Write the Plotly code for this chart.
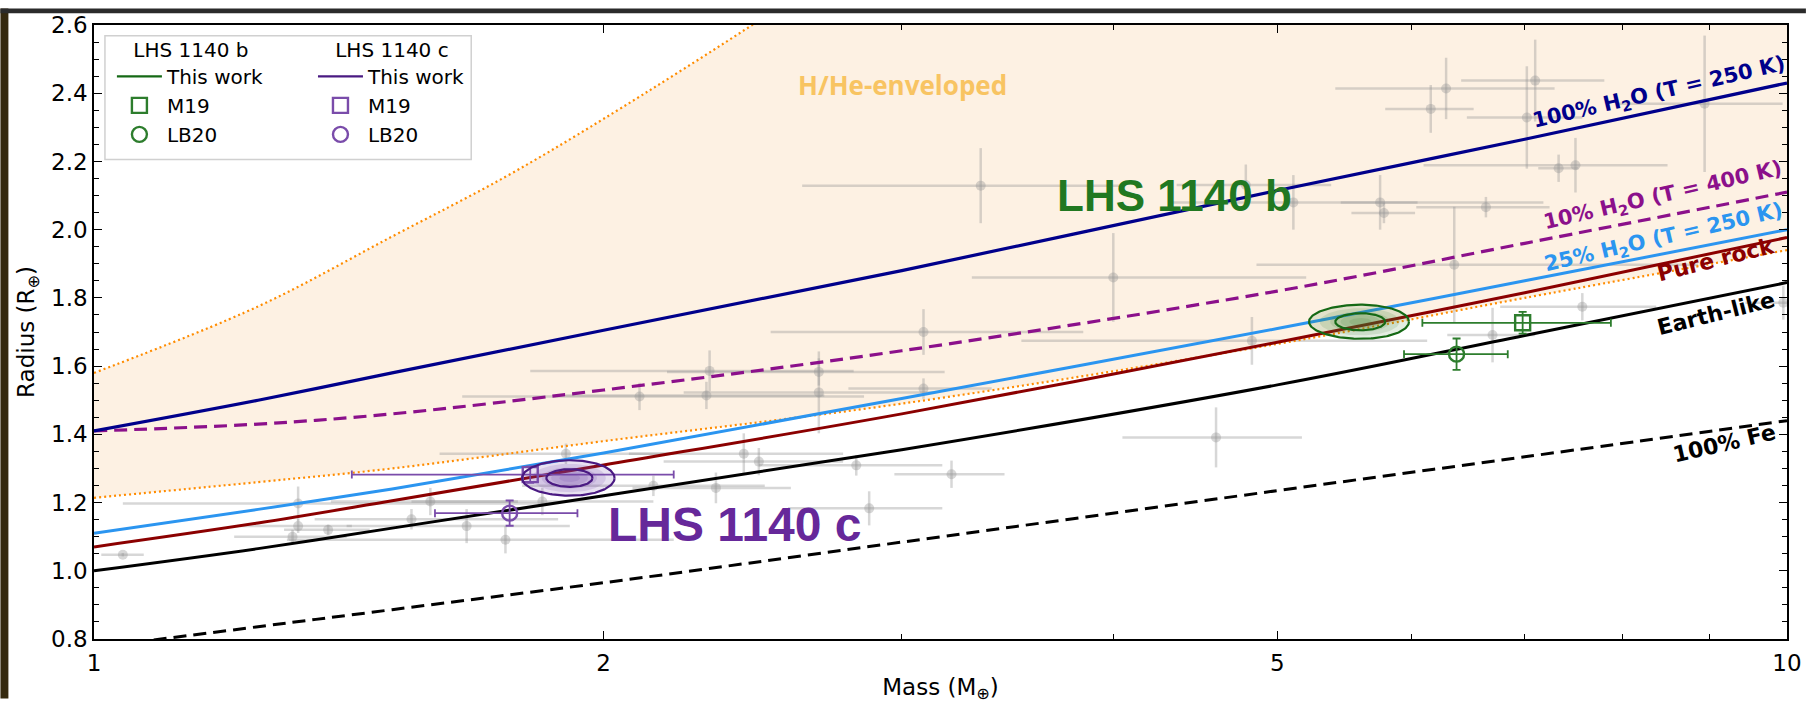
import numpy as np
import plotly.graph_objects as go

# ---------------- composition models: radius (R_earth) vs mass (M_earth) ----------------
mass_grid = [1.0, 1.25, 1.5, 2.0, 3.0, 5.0, 7.0, 10.0]
r_water100_250K = [1.41, 1.50, 1.58, 1.705, 1.88, 2.115, 2.265, 2.43]
r_water10_400K = [1.41, 1.43, 1.46, 1.53, 1.645, 1.82, 1.96, 2.11]
r_water25_250K = [1.11, 1.18, 1.24, 1.345, 1.505, 1.71, 1.85, 2.00]
r_pure_rock = [1.07, 1.14, 1.205, 1.31, 1.46, 1.67, 1.815, 1.977]
r_earth_like = [1.00, 1.065, 1.125, 1.22, 1.355, 1.545, 1.69, 1.845]
r_pure_iron = [0.775, 0.836, 0.886, 0.965, 1.084, 1.235, 1.334, 1.44]

# H/He-enveloped region boundaries
r_hhe_lower = [1.214, 1.26, 1.30, 1.38, 1.49, 1.665, 1.80, 1.94]
hhe_upper_mass = [1.0, 1.25, 1.5, 1.75, 2.0, 2.5, 3.0]
hhe_upper_r = [1.58, 1.775, 1.98, 2.155, 2.325, 2.63, 2.90]
HHE_TOP = 2.9

# ---------------- small-planet sample (grey) ----------------
field_mass = [1.04, 1.32, 1.32, 1.31, 1.375, 1.54, 1.58, 1.66, 1.75, 1.84,
              1.90, 2.14, 2.33, 2.42, 2.47, 2.82, 2.87, 3.21, 2.10, 2.30,
              2.31, 2.68, 2.68, 3.09, 3.09, 4.00, 4.83, 4.60, 3.34, 4.79,
              5.11, 5.75, 5.78, 6.64, 6.36, 7.57, 9.95, 6.29, 6.16, 7.10,
              7.02, 8.94, 7.33, 7.50, 6.70]
field_radius = [1.047, 1.197, 1.131, 1.100, 1.120, 1.151, 1.203, 1.131, 1.091, 1.203,
                1.343, 1.249, 1.243, 1.343, 1.320, 1.309, 1.183, 1.283, 1.511, 1.514,
                1.586, 1.583, 1.523, 1.700, 1.534, 1.860, 1.674, 1.391, 2.129, 2.131,
                2.080, 2.080, 2.049, 2.066, 1.897, 1.774, 1.786, 2.414, 2.354, 2.437,
                2.329, 2.369, 2.180, 2.189, 1.691]
field_mass_lo = [0.03, 0.28, 0.10, 0.10, 0.08, 0.19, 0.20, 0.25, 0.45, 0.30,
                 0.30, 0.35, 0.25, 0.35, 0.30, 0.35, 0.30, 0.24, 0.45, 0.40,
                 0.50, 0.50, 0.45, 0.58, 0.30, 0.70, 1.30, 0.55, 0.72, 0.43,
                 0.79, 0.30, 0.25, 0.60, 1.50, 0.80, 0.50, 0.88, 0.37, 0.68,
                 0.55, 1.00, 0.20, 1.40, 0.40]
field_mass_hi = [0.03, 0.55, 0.10, 0.10, 0.08, 0.34, 0.20, 0.25, 0.45, 0.30,
                 0.30, 0.35, 0.25, 0.35, 0.30, 0.35, 0.30, 0.24, 0.75, 0.40,
                 0.50, 0.50, 0.45, 0.75, 0.30, 1.20, 1.30, 0.57, 0.72, 0.59,
                 2.07, 0.30, 0.25, 0.60, 2.50, 0.80, 0.40, 1.00, 0.37, 0.70,
                 0.55, 1.00, 0.20, 1.00, 0.40]
field_radius_err = [0.005, 0.05, 0.02, 0.02, 0.015, 0.03, 0.04, 0.05, 0.04, 0.04,
                    0.03, 0.03, 0.045, 0.06, 0.04, 0.03, 0.05, 0.04, 0.04, 0.04,
                    0.06, 0.04, 0.12, 0.067, 0.03, 0.13, 0.07, 0.088, 0.11, 0.06,
                    0.08, 0.08, 0.03, 0.03, 0.17, 0.04, 0.05, 0.09, 0.07, 0.12,
                    0.15, 0.20, 0.04, 0.08, 0.08]

# ---------------- LHS 1140 b and c ----------------
b_mass, b_mass_err, b_radius, b_radius_err = 5.60, 0.19, 1.730, 0.025
c_mass, c_mass_err, c_radius, c_radius_err = 1.91, 0.06, 1.272, 0.026
b_m19 = dict(m=6.98, dm=0.89, r=1.727, dr=0.032)
b_lb20 = dict(m=6.38, dm_lo=0.44, dm_hi=0.46, r=1.635, dr=0.046)
c_m19 = dict(m=1.81, dm=0.39, r=1.282, dr=0.024)
c_lb20 = dict(m=1.76, dm=0.17, r=1.169, dr=0.037)

# ---------------- geometry helpers (pixel -> paper) ----------------
W, H = 1814, 708
L, R, T, B = 94, 1795, 17, 647


def px(x):
    return (x - L) / (R - L)


def py(y):
    return (B - y) / (B - T)


GREEN = "#2d7d2d"
GREEN_DARK = "#156915"
PURPLE = "#7a4caa"
PURPLE_DARK = "#4a1a82"
GRAY = "rgba(150,150,150,0.38)"
ORANGE = "#ff8c00"
FONT = "DejaVu Sans"

fig = go.Figure()

# H/He-enveloped region: lower boundary, then upper boundary filled down to it
fig.add_trace(go.Scatter(x=mass_grid, y=r_hhe_lower, mode="lines",
                         line=dict(width=0, shape="spline"),
                         showlegend=False, hoverinfo="skip"))
fig.add_trace(go.Scatter(x=hhe_upper_mass + [mass_grid[-1]], y=hhe_upper_r + [HHE_TOP],
                         mode="lines", fill="tonexty", fillcolor="#fdf1e3",
                         line=dict(width=0, shape="spline"),
                         showlegend=False, hoverinfo="skip"))

# grey comparison sample
fig.add_trace(go.Scatter(
    x=field_mass, y=field_radius, mode="markers",
    marker=dict(color=GRAY, size=10),
    error_x=dict(type="data", symmetric=False, array=field_mass_hi,
                 arrayminus=field_mass_lo, color=GRAY, thickness=2.5, width=0),
    error_y=dict(type="data", array=field_radius_err, color=GRAY,
                 thickness=2.5, width=0),
    showlegend=False, hoverinfo="skip"))

# envelope boundary lines
for xs, ys in [(mass_grid, r_hhe_lower), (hhe_upper_mass, hhe_upper_r)]:
    fig.add_trace(go.Scatter(x=xs, y=ys, mode="lines",
                             line=dict(color=ORANGE, width=2.2, dash="2px,3px",
                                       shape="spline"),
                             showlegend=False, hoverinfo="skip"))

# composition curves
curves = [
    (r_pure_iron, "black", "13px,7px", 3),
    (r_earth_like, "black", None, 3),
    (r_pure_rock, "#8b0000", None, 3),
    (r_water25_250K, "#2b95f0", None, 3),
    (r_water10_400K, "#8b108b", "13px,7px", 3.2),
    (r_water100_250K, "#00008b", None, 3.2),
]
for ys, col, dash, w in curves:
    fig.add_trace(go.Scatter(x=mass_grid, y=ys, mode="lines",
                             line=dict(color=col, width=w, dash=dash, shape="spline"),
                             showlegend=False, hoverinfo="skip"))

# posterior contours of this work
t = np.linspace(0, 2 * np.pi, 181)


def ellipse(m, dm, r, dr, k):
    return m + k * dm * np.cos(t), r + k * dr * np.sin(t)


def add_posterior(m, dm, r, dr, shade, line_col, legend):
    for k in [2.0, 1.6, 1.2, 0.8, 0.45]:
        ex, ey = ellipse(m, dm, r, dr, k)
        fig.add_trace(go.Scatter(x=ex, y=ey, mode="lines", fill="toself",
                                 fillcolor=shade, line=dict(width=0),
                                 showlegend=False, hoverinfo="skip"))
    for k in [2.0, 1.0]:
        ex, ey = ellipse(m, dm, r, dr, k)
        fig.add_trace(go.Scatter(x=ex, y=ey, mode="lines",
                                 line=dict(color=line_col, width=2.2),
                                 name="This work", legend=legend, legendrank=1,
                                 showlegend=(k == 1.0), hoverinfo="skip"))


def add_literature(m, dm_lo, dm_hi, r, dr, symbol, col, name, legend, rank):
    fig.add_trace(go.Scatter(
        x=[m], y=[r], mode="markers", name=name, legend=legend, legendrank=rank,
        marker=dict(symbol=symbol, size=15, color=col, line=dict(color=col, width=2.4)),
        error_x=dict(type="data", symmetric=False, array=[dm_hi], arrayminus=[dm_lo],
                     color=col, thickness=1.8, width=4),
        error_y=dict(type="data", array=[dr], color=col, thickness=1.8, width=4),
        hoverinfo="skip"))


# LHS 1140 b
add_posterior(b_mass, b_mass_err, b_radius, b_radius_err,
              "rgba(60,130,50,0.14)", GREEN_DARK, "legend")
add_literature(b_m19["m"], b_m19["dm"], b_m19["dm"], b_m19["r"], b_m19["dr"],
               "square-open", GREEN, "M19", "legend", 2)
add_literature(b_lb20["m"], b_lb20["dm_lo"], b_lb20["dm_hi"], b_lb20["r"], b_lb20["dr"],
               "circle-open", GREEN, "LB20", "legend", 3)

# LHS 1140 c
add_literature(c_m19["m"], c_m19["dm"], c_m19["dm"], c_m19["r"], c_m19["dr"],
               "square-open", PURPLE, "M19", "legend2", 2)
add_posterior(c_mass, c_mass_err, c_radius, c_radius_err,
              "rgba(110,70,170,0.16)", PURPLE_DARK, "legend2")
add_literature(c_lb20["m"], c_lb20["dm"], c_lb20["dm"], c_lb20["r"], c_lb20["dr"],
               "circle-open", PURPLE, "LB20", "legend2", 3)

# ---------------- annotations ----------------
ann = []


def label(text, x, y, color, size, angle=0, family=FONT):
    ann.append(dict(text=text, x=px(x), y=py(y), xref="paper", yref="paper",
                    xanchor="center", yanchor="middle", showarrow=False,
                    textangle=angle, font=dict(family=family, size=size, color=color)))


label("<b>H/He-enveloped</b>", 906, 79, "#f8c462", 26, family="Open Sans")
label("<b>LHS 1140 b</b>", 1180, 192, "#217821", 44,
      family="Liberation Sans Narrow, Liberation Sans")
label("<b>LHS 1140 c</b>", 738, 530, "#66289a", 48,
      family="Liberation Sans Narrow, Liberation Sans")
label("<b>100% H<sub>2</sub>O (T = 250 K)</b>", 1666, 87, "#00008b", 21, -13)
label("<b>10% H<sub>2</sub>O (T = 400 K)</b>", 1670, 192, "#8b108b", 21, -13)
label("<b>25% H<sub>2</sub>O (T = 250 K)</b>", 1671, 236, "#2b95f0", 21, -13)
label("<b>Pure rock</b>", 1724, 258, "#8b0000", 22, -14)
label("<b>Earth-like</b>", 1724, 313, "black", 22, -14)
label("<b>100% Fe</b>", 1732, 446, "black", 22, -13)

# ---------------- layout ----------------
shapes = [
    # legend frame
    dict(type="rect", xref="paper", yref="paper", x0=px(105), x1=px(473),
         y0=py(155), y1=py(28), fillcolor="white", line=dict(color="#d0d0d0", width=1.5),
         layer="above"),
    # dark outer frame
    dict(type="rect", xref="paper", yref="paper", x0=px(0), x1=px(8), y0=py(H), y1=py(0),
         fillcolor="#35290f", line=dict(width=0), layer="above"),
    dict(type="rect", xref="paper", yref="paper", x0=px(0), x1=px(W), y0=py(5), y1=py(0),
         fillcolor="#2b2b2b", line=dict(width=0), layer="above"),
]

legend_common = dict(bgcolor="rgba(0,0,0,0)", borderwidth=0, xanchor="left",
                     yanchor="top", itemwidth=45, tracegroupgap=0, traceorder="normal",
                     font=dict(family=FONT, size=20, color="black"))

fig.update_layout(
    width=W, height=H,
    margin=dict(l=L, r=W - R, t=T, b=H - B, pad=0),
    paper_bgcolor="white", plot_bgcolor="white",
    annotations=ann, shapes=shapes,
    legend=dict(x=px(112), y=py(23),
                title=dict(text="LHS 1140 b", side="top center",
                           font=dict(family=FONT, size=20, color="black")),
                **legend_common),
    legend2=dict(x=px(314), y=py(23),
                 title=dict(text="LHS 1140 c", side="top center",
                            font=dict(family=FONT, size=20, color="black")),
                 **legend_common),
)

axis_common = dict(ticks="inside", ticklen=8, tickwidth=1.2, tickcolor="black",
                   showline=True, linecolor="black", linewidth=1.6, mirror="allticks",
                   showgrid=False, zeroline=False,
                   tickfont=dict(family=FONT, size=23, color="black"))

fig.update_xaxes(type="log", range=[0, 1], tickvals=[1, 2, 5, 10],
                 ticktext=["1", "2", "5", "10"], ticklabelstandoff=3,
                 minor=dict(tickvals=[3, 4, 6, 7, 8, 9], ticks="inside", ticklen=5,
                            tickcolor="black", tickwidth=1),
                 title=dict(text="Mass (M<sub>⊕</sub>)", standoff=3,
                            font=dict(family=FONT, size=23, color="black")),
                 **axis_common)
fig.update_yaxes(range=[0.8, 2.6], tick0=0.8, dtick=0.2, tickformat=".1f",
                 minor=dict(dtick=0.05, ticks="inside", ticklen=5,
                            tickcolor="black", tickwidth=1),
                 title=dict(text="Radius (R<sub>⊕</sub>)", standoff=10,
                            font=dict(family=FONT, size=23, color="black")),
                 **axis_common)

fig.write_html("out.html", config=dict(displayModeBar=False),
               post_script="document.body.style.margin='0';"
                           "document.body.style.overflow='hidden';")
